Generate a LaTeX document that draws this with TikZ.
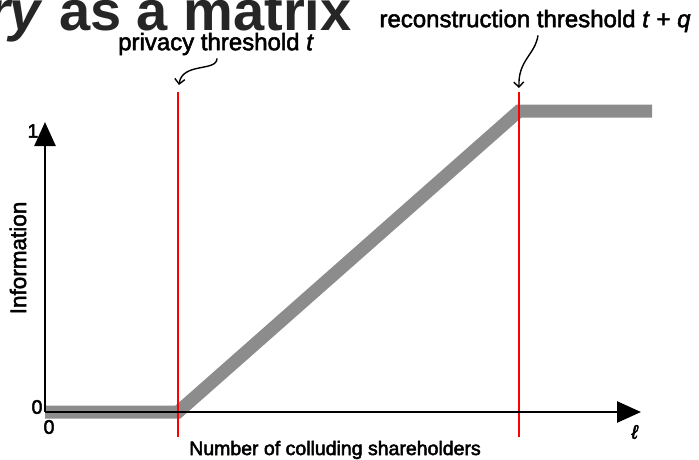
\documentclass[tikz,border=0pt]{standalone}
\usepackage{fontspec}
\setmainfont{Liberation Sans}
\newfontfamily\lblfont{Liberation Sans}
\newcommand\heavytxt[1]{\special{pdf:literal direct 2 Tr 0.5 w}#1\special{pdf:literal direct 0 Tr}}
\usetikzlibrary{arrows.meta}
\begin{document}
\begin{tikzpicture}[x=1pt,y=-1pt,
  lbl/.style={inner sep=0pt,font=\lblfont\fontsize{22.5}{25}\selectfont},
  big/.style={inner sep=0pt,font=\lblfont\fontsize{24}{26}\selectfont},
  small/.style={inner sep=0pt,font=\lblfont\fontsize{19.5}{22}\selectfont},
  axis/.style={line width=2.6pt,-{Triangle[length=24pt,width=21pt]}},
  redline/.style={red,line width=1.3pt},
  curve/.style={line width=1.4pt,-{Straight Barb[length=5pt,width=10pt]}},
  info/.style={line width=13pt,color=black!45}]
\useasboundingbox (0,0) rectangle (699,460);
\clip (0,0) rectangle (699,460);
% title (cut off)
\node[anchor=base west,inner sep=0pt,font=\fontsize{56}{60}\selectfont\bfseries,color=black!85] (title) at (-12,31) {\textit{ry} as a matrix};
% coordinates
\coordinate (O) at (45,412);
\coordinate (ytip) at (45,122);
\coordinate (xtip) at (641,412);
\coordinate (k1) at (178,412);
\coordinate (k2) at (519,111);
\coordinate (e) at (652,111);
% information curve
\draw[info] (O) -- (k1) -- (k2) -- (e);
% red threshold lines
\coordinate (r1t) at (178,92);
\coordinate (r1b) at (178,437);
\coordinate (r2t) at (519,92);
\coordinate (r2b) at (519,437);
\draw[redline] (r1t) -- (r1b);
\draw[redline] (r2t) -- (r2b);
% axes
\draw[axis] (O) -- (ytip);
\draw[axis] (O) -- (xtip);
% labels
\node[small] (one) at (33,131) {\heavytxt{1}};
\node[small] (zy) at (37,407) {\heavytxt{0}};
\node[small] (zx) at (49,427) {\heavytxt{0}};
\node[small] (ell) at (635,432) {\heavytxt{\textit{ℓ}}};
\node[lbl,rotate=90] (inf) at (18,258) {\heavytxt{Information}};
\node[small] (xl) at (335,450) {\heavytxt{Number of colluding shareholders}};
\node[big] (pt) at (216,44) {\heavytxt{privacy threshold \textit{t}}};
\node[big] (rt) at (535,21) {\heavytxt{reconstruction threshold \textit{t} + \textit{q}}};
% pointer curves
\coordinate (p1) at (179,85);
\coordinate (p2) at (519,88);
\draw[curve] (pt.south) ++(1,3) .. controls (217,72) and (182,62) .. (p1);
\draw[curve] (rt.south) ++(3,3) .. controls (535,55) and (518,60) .. (p2);
\end{tikzpicture}
\end{document}
